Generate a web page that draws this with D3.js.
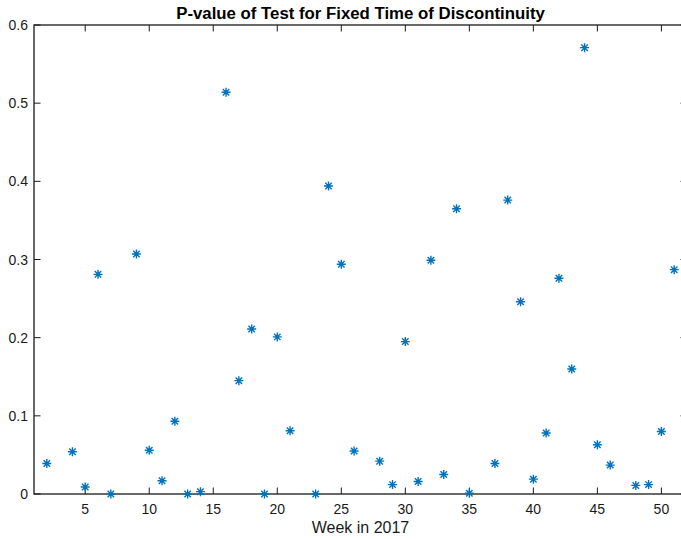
<!DOCTYPE html>
<html>
<head>
<meta charset="utf-8">
<script src="https://cdn.jsdelivr.net/npm/d3@7"></script>
<style>
  body { margin: 0; background: #fff; }
  svg { display: block; font-family: "Liberation Sans", Arial, sans-serif; }
</style>
</head>
<body>
<div id="chart"></div>
<script>
var weeks = [2, 4, 5, 6, 7, 9, 10, 11, 12, 13, 14, 16, 17, 18, 19, 20, 21, 23, 24, 25, 26,
    28, 29, 30, 31, 32, 33, 34, 35, 37, 38, 39, 40, 41, 42, 43, 44, 45, 46, 48, 49, 50, 51];
var pvalues = [0.039, 0.054, 0.009, 0.281, 0.000, 0.307, 0.056, 0.017, 0.093, 0.000, 0.003,
    0.514, 0.145, 0.211, 0.000, 0.201, 0.081, 0.000, 0.394, 0.294, 0.055,
    0.042, 0.012, 0.195, 0.016, 0.299, 0.025, 0.365, 0.001, 0.039, 0.376, 0.246, 0.019,
    0.078, 0.276, 0.160, 0.571, 0.063, 0.037, 0.011, 0.012, 0.080, 0.287];
var xTicks = [5, 10, 15, 20, 25, 30, 35, 40, 45, 50];
var yTicks = [0, 0.1, 0.2, 0.3, 0.4, 0.5, 0.6];

function drawChart() {
    var width = 681;
    var height = 539;
    var margin = { top: 25, left: 34, right: -6, bottom: 45 };
    var tickLen = 6.5;
    var axisColor = "#1a1a1a";
    var blue = "#0072BD";

    var svg = d3.select("#chart").append("svg")
        .attr("width", width)
        .attr("height", height);

    var x = d3.scaleLinear()
        .domain([1, 52])
        .range([margin.left, width - margin.right]);
    var y = d3.scaleLinear()
        .domain([0, 0.6])
        .range([height - margin.bottom, margin.top]);

    var x0 = x.range()[0], x1 = x.range()[1];
    var y0 = y.range()[0], y1 = y.range()[1];

    // box
    svg.append("rect")
        .attr("x", x0)
        .attr("y", y1)
        .attr("width", x1 - x0)
        .attr("height", y0 - y1)
        .attr("fill", "none")
        .attr("stroke", axisColor)
        .attr("stroke-width", 1.3);

    // x ticks (bottom and top, inward)
    var xt = svg.append("g");
    xTicks.forEach(function(t) {
        xt.append("line")
            .attr("x1", x(t)).attr("x2", x(t))
            .attr("y1", y0).attr("y2", y0 - tickLen)
            .attr("stroke", axisColor);
        xt.append("line")
            .attr("x1", x(t)).attr("x2", x(t))
            .attr("y1", y1).attr("y2", y1 + tickLen)
            .attr("stroke", axisColor);
        xt.append("text")
            .attr("x", x(t))
            .attr("y", y0 + 20)
            .attr("text-anchor", "middle")
            .attr("font-size", 14)
            .attr("fill", axisColor)
            .text(t);
    });

    // y ticks (left and right, inward)
    var yt = svg.append("g");
    yTicks.forEach(function(t) {
        yt.append("line")
            .attr("x1", x0).attr("x2", x0 + tickLen)
            .attr("y1", y(t)).attr("y2", y(t))
            .attr("stroke", axisColor);
        yt.append("line")
            .attr("x1", x1).attr("x2", x1 - tickLen)
            .attr("y1", y(t)).attr("y2", y(t))
            .attr("stroke", axisColor);
        yt.append("text")
            .attr("x", x0 - 6)
            .attr("y", y(t) + 5)
            .attr("text-anchor", "end")
            .attr("font-size", 14)
            .attr("fill", axisColor)
            .text(t === 0 ? "0" : d3.format(".1f")(t));
    });

    // asterisk markers
    var r = 4.5;
    var star = "M" + (-r) + ",0H" + r + "M0," + (-r) + "V" + r +
        "M" + (-r * 0.72) + "," + (-r * 0.72) + "L" + (r * 0.72) + "," + (r * 0.72) +
        "M" + (-r * 0.72) + "," + (r * 0.72) + "L" + (r * 0.72) + "," + (-r * 0.72);

    var pts = weeks.map(function(w, i) { return { w: w, p: pvalues[i] }; });

    svg.append("g").selectAll("path")
        .data(pts)
        .enter().append("path")
        .attr("transform", function(d) { return "translate(" + x(d.w) + "," + y(d.p) + ")"; })
        .attr("d", star)
        .attr("fill", "none")
        .attr("stroke", blue)
        .attr("stroke-width", 1.4);

    // title
    svg.append("text")
        .attr("x", (x0 + x1) / 2)
        .attr("y", 18.5)
        .attr("text-anchor", "middle")
        .attr("font-size", 16.8)
        .attr("font-weight", "bold")
        .attr("fill", "#000")
        .text("P-value of Test for Fixed Time of Discontinuity");

    // x label
    svg.append("text")
        .attr("x", (x0 + x1) / 2)
        .attr("y", y0 + 39)
        .attr("text-anchor", "middle")
        .attr("font-size", 16)
        .attr("fill", axisColor)
        .text("Week in 2017");
}

drawChart();
</script>
</body>
</html>
